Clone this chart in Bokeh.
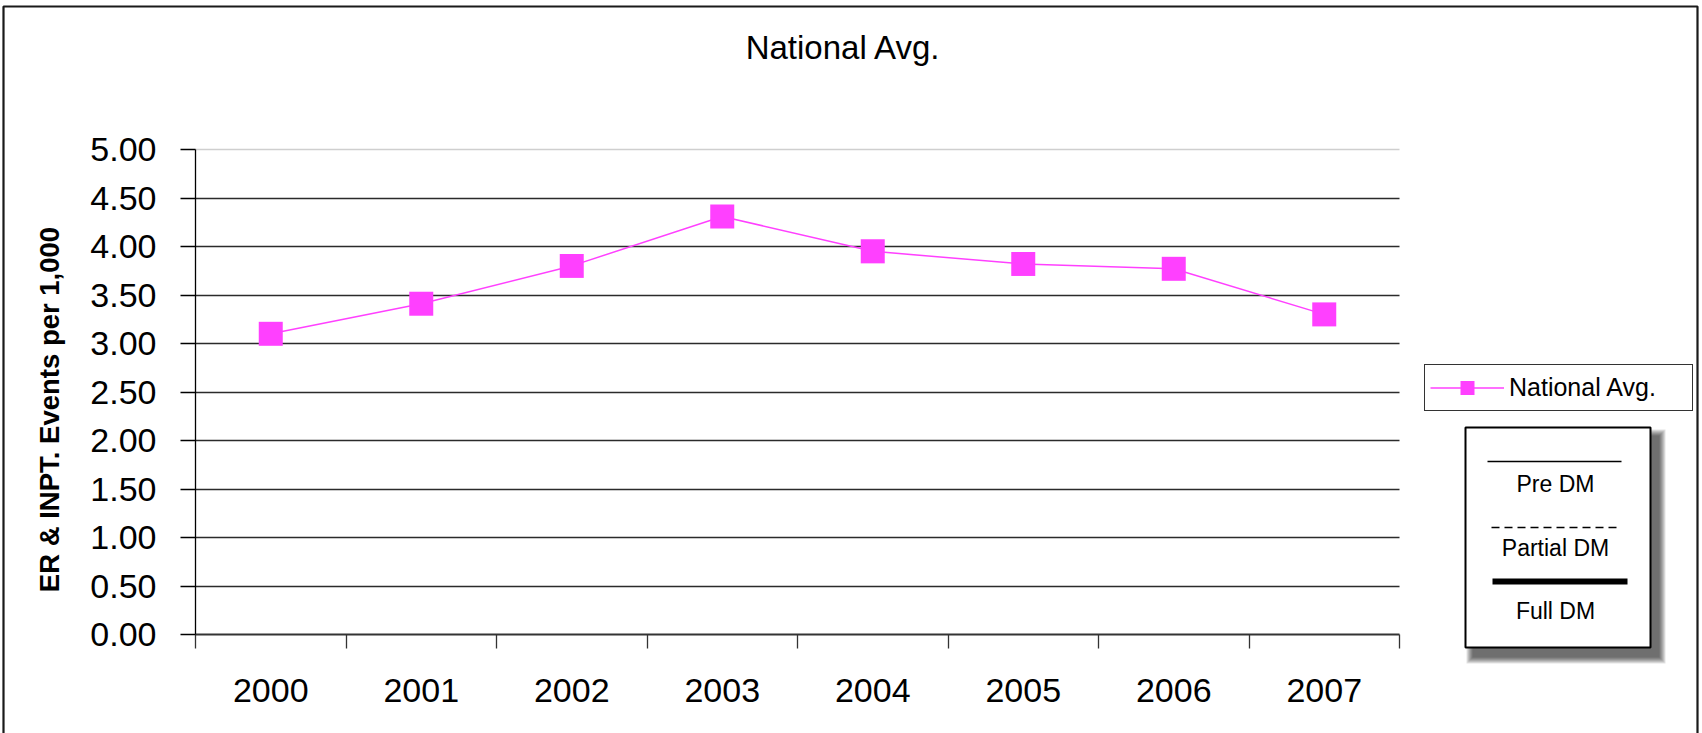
from math import pi

from bokeh.embed import file_html
from bokeh.models import (Arrow, BoxAnnotation, ColumnDataSource, FixedTicker,
                          Label, Legend, LegendItem, Range1d)
from bokeh.plotting import figure
from bokeh.resources import INLINE

# ---- data -------------------------------------------------------------
years = ["2000", "2001", "2002", "2003", "2004", "2005", "2006", "2007"]
national_avg = [3.10, 3.41, 3.80, 4.31, 3.95, 3.82, 3.77, 3.30]
y_ticks = [0.0, 0.5, 1.0, 1.5, 2.0, 2.5, 3.0, 3.5, 4.0, 4.5, 5.0]
y_tick_labels = ["0.00", "0.50", "1.00", "1.50", "2.00", "2.50",
                 "3.00", "3.50", "4.00", "4.50", "5.00"]
dm_phases = ["Pre DM", "Partial DM", "Full DM"]
series_name = "National Avg."
y_title = "ER & INPT. Events per 1,000"

# ---- layout -----------------------------------------------------------
# The canvas is one big frame; the plot area sits inside it and the axes
# are pinned to its edges, so titles and keys can live anywhere on the page.
W, H = 1702, 733
AREA_L, AREA_R, AREA_T, AREA_B = 195, 1399, 149, 634
Y_MAX = 5.0
N = len(years)
FONT = "Liberation Sans"
PINK = "#FF40FF"


def cx(px):
    """canvas pixel column -> x data value"""
    return (px - AREA_L) / ((AREA_R - AREA_L) / N)


def cy(py):
    """canvas pixel row -> y data value"""
    return (AREA_B - py) / ((AREA_B - AREA_T) / Y_MAX)


x_pos = [i + 0.5 for i in range(N)]
src = ColumnDataSource(dict(x=x_pos, y=national_avg, year=years))

p = figure(width=W, height=H, title=None,
           x_range=Range1d(cx(0), cx(W)), y_range=Range1d(cy(H), cy(0)),
           output_backend="svg", toolbar_location=None,
           min_border=0, background_fill_color="white", border_fill_color="white")
p.outline_line_color = None

# x axis: labels centred in each category, ticks on the category edges
xa = p.xaxis[0]
xa.fixed_location = 0
xa.bounds = (0, N)
xa.ticker = FixedTicker(ticks=x_pos, minor_ticks=list(range(N + 1)))
xa.major_label_overrides = {x: yr for x, yr in zip(x_pos, years)}
xa.major_tick_in = 0
xa.major_tick_out = 0
xa.minor_tick_in = 0
xa.minor_tick_out = 14
xa.minor_tick_line_color = "#333333"
xa.minor_tick_line_width = 1.3
xa.axis_line_color = "#333333"
xa.axis_line_width = 2
xa.major_label_text_font = FONT
xa.major_label_text_font_size = "34px"
xa.major_label_text_color = "black"
xa.major_label_standoff = 30

# y axis
ya = p.yaxis[0]
ya.fixed_location = 0
ya.bounds = (0, Y_MAX)
ya.ticker = FixedTicker(ticks=y_ticks)
ya.major_label_overrides = {t: lab for t, lab in zip(y_ticks, y_tick_labels)}
ya.major_tick_in = 0
ya.major_tick_out = 15
ya.minor_tick_out = 0
ya.minor_tick_in = 0
ya.major_tick_line_color = "black"
ya.major_tick_line_width = 1.3
ya.axis_line_color = "black"
ya.axis_line_width = 1.3
ya.major_label_text_font = FONT
ya.major_label_text_font_size = "34px"
ya.major_label_text_color = "black"
ya.major_label_standoff = 24

# gridlines across the plot area only
p.xgrid.visible = False
p.ygrid.ticker = FixedTicker(ticks=y_ticks[1:-1])
p.ygrid.cross_bounds = (0, N)
p.ygrid.grid_line_color = "#2b2b2b"
p.ygrid.grid_line_width = 1.6
p.segment(x0=[0], x1=[N], y0=[y_ticks[-1]], y1=[y_ticks[-1]],
          line_color="#cfcfcf", line_width=1.5)

# series
line_r = p.line("x", "y", source=src, line_color=PINK, line_width=1.5)
mark_r = p.scatter("x", "y", source=src, marker="square", size=24,
                   fill_color=PINK, line_color=PINK, line_width=0)

# outer chart border
p.add_layout(BoxAnnotation(left=cx(3), right=cx(1697), top=cy(6), bottom=cy(770),
                           fill_alpha=0, line_color="#1a1a1a", line_alpha=1.0,
                           line_width=2.2))

# chart title and y-axis title
p.add_layout(Label(x=cx(843), y=cy(47), text=series_name, text_font=FONT,
                   text_font_size="33px", text_color="black",
                   text_align="center", text_baseline="middle"))
p.add_layout(Label(x=cx(48.5), y=cy(409), text=y_title, angle=pi / 2,
                   text_font=FONT, text_font_size="27.5px", text_font_style="bold",
                   text_color="black", text_align="center", text_baseline="middle"))

# series legend
legend = Legend(items=[LegendItem(label=series_name, renderers=[line_r, mark_r])],
                location=(1424, H - 411),
                padding=5, margin=0, spacing=0,
                glyph_width=74, glyph_height=35, label_standoff=5,
                label_width=178, label_height=29,
                label_text_font=FONT, label_text_font_size="25px",
                label_text_color="black",
                border_line_color="#333333", border_line_alpha=1.0,
                border_line_width=1.5,
                background_fill_color="white", background_fill_alpha=1.0)
p.add_layout(legend)

# line-style key for the DM phases, with a soft drop shadow
KL, KR, KT, KB = 1465, 1650, 427, 647
for r in range(7, 0, -1):
    p.add_layout(BoxAnnotation(left=cx(KL + 8 - r), right=cx(KR + 8 + r),
                               top=cy(KT + 9 - r), bottom=cy(KB + 9 + r),
                               fill_color="black", fill_alpha=0.11, line_alpha=0))
p.add_layout(BoxAnnotation(left=cx(KL), right=cx(KR), top=cy(KT), bottom=cy(KB),
                           fill_color="white", fill_alpha=1.0,
                           line_color="black", line_alpha=1.0, line_width=2))

key_lines = [(1487, 1621, 461, 1.5, "solid"),
             (1491, 1621, 527, 1.5, "8 5"),
             (1492, 1627, 581, 6, "solid")]
key_text_rows = [483, 547, 610]
for (x0, x1, yy, lw, dash), phase, ty in zip(key_lines, dm_phases, key_text_rows):
    p.add_layout(Arrow(start=None, end=None, x_start=cx(x0), x_end=cx(x1),
                       y_start=cy(yy), y_end=cy(yy), line_color="black",
                       line_width=lw, line_dash=dash))
    p.add_layout(Label(x=cx(1555), y=cy(ty), text=phase, text_font=FONT,
                       text_font_size="23px", text_color="black",
                       text_align="center", text_baseline="middle"))

open("out.html", "w").write(file_html(p, INLINE))
